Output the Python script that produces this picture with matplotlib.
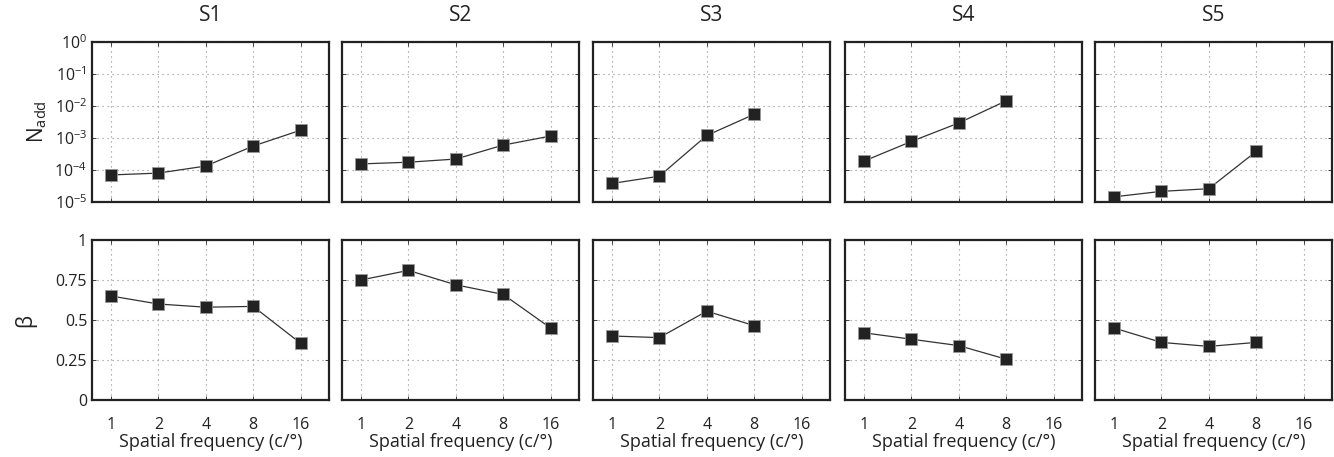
import matplotlib
matplotlib.use('Agg')
import matplotlib.pyplot as plt
from matplotlib.ticker import FixedLocator, NullLocator

plt.rcParams['font.family'] = ['Open Sans', 'DejaVu Sans']
plt.rcParams['mathtext.fontset'] = 'custom'
plt.rcParams['mathtext.rm'] = 'Open Sans'

subjects = ['S1', 'S2', 'S3', 'S4', 'S5']
freqs = [1, 2, 4, 8, 16]

nadd = [
    [7.0e-5, 8.0e-5, 1.33e-4, 5.6e-4, 1.75e-3],
    [1.55e-4, 1.75e-4, 2.2e-4, 6.0e-4, 1.15e-3],
    [3.8e-5, 6.4e-5, 1.2e-3, 5.5e-3],
    [1.9e-4, 7.8e-4, 2.95e-3, 1.45e-2],
    [1.45e-5, 2.15e-5, 2.6e-5, 3.8e-4],
]
beta = [
    [0.65, 0.60, 0.58, 0.585, 0.355],
    [0.75, 0.81, 0.72, 0.66, 0.45],
    [0.40, 0.39, 0.555, 0.465],
    [0.42, 0.38, 0.34, 0.255],
    [0.45, 0.36, 0.335, 0.36],
]

W, H = 1334, 457
fig = plt.figure(figsize=(W / 100, H / 100), dpi=100)

lefts = [92, 342, 593, 845, 1095]
aw = 237
grid_kw = dict(color='0.55', linestyle=(0, (1, 3.5)), linewidth=0.8)


def style(ax):
    ax.set_xscale('log', base=2)
    ax.set_xlim(2 ** -0.4, 2 ** 4.6)
    ax.xaxis.set_major_locator(FixedLocator(freqs))
    ax.xaxis.set_minor_locator(NullLocator())
    ax.grid(True, which='major', **grid_kw)
    ax.tick_params(direction='in', length=3, width=0.6, labelsize=11.5,
                   colors='#222222', top=True, right=True)
    for s in ax.spines.values():
        s.set_linewidth(1.6)
        s.set_color('#222222')


for i, name in enumerate(subjects):
    n = len(nadd[i])
    x = freqs[:n]

    ax1 = fig.add_axes([lefts[i] / W, 1 - 202 / H, aw / W, 160 / H])
    ax1.plot(x, nadd[i], '-s', color='#333333', lw=0.9, ms=8,
             mfc='#222222', mec='#999999', mew=0.6)
    ax1.set_yscale('log')
    ax1.set_ylim(1e-5, 1)
    ax1.yaxis.set_major_locator(FixedLocator([1e-5, 1e-4, 1e-3, 1e-2, 1e-1, 1]))
    ax1.yaxis.set_minor_locator(NullLocator())
    style(ax1)
    ax1.set_xticklabels([])
    ax1.set_title(name, fontsize=15, pad=15, color='#222222')

    ax2 = fig.add_axes([lefts[i] / W, 1 - 400 / H, aw / W, 160 / H])
    ax2.plot(x, beta[i], '-s', color='#333333', lw=0.9, ms=8,
             mfc='#222222', mec='#999999', mew=0.6)
    ax2.set_ylim(0, 1)
    ax2.yaxis.set_major_locator(FixedLocator([0, 0.25, 0.5, 0.75, 1]))
    style(ax2)
    ax2.set_xticklabels([str(f) for f in freqs])
    ax2.tick_params(axis='x', pad=12)
    ax2.set_xlabel('Spatial frequency (c/°)', fontsize=13, color='#222222',
                   labelpad=0)

    if i == 0:
        ax1.set_ylabel(r'N$_{\mathrm{add}}$', fontsize=15, color='#222222',
                       labelpad=4)
        ax2.set_ylabel('β', fontsize=15, color='#222222', labelpad=14)
        ax2.set_yticklabels(['0', '0.25', '0.5', '0.75', '1'])
    else:
        ax1.set_yticklabels([])
        ax2.set_yticklabels([])

fig.savefig('out.png', dpi=100)
